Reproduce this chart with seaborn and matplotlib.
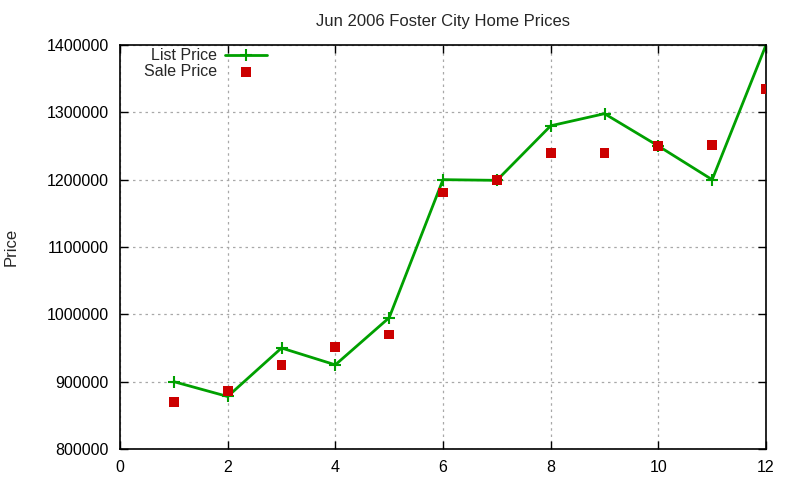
import pandas as pd
import matplotlib.pyplot as plt
import seaborn as sns

# values
months = [1, 2, 3, 4, 5, 6, 7, 8, 9, 10, 11, 12]
list_price = [900000, 878000, 950000, 925000, 995000, 1200000, 1199000,
              1280000, 1298000, 1250000, 1200000, 1400000]
sale_price = [870000, 886000, 925000, 952000, 970000, 1181000, 1200000,
              1239000, 1239000, 1250000, 1252000, 1335000]
x_ticks = [0, 2, 4, 6, 8, 10, 12]
y_ticks = [800000, 900000, 1000000, 1100000, 1200000, 1300000, 1400000]

df = pd.DataFrame({'month': months, 'list': list_price, 'sale': sale_price})

sns.set_style('ticks')
plt.rcParams['font.family'] = ['Liberation Sans', 'DejaVu Sans']

fig = plt.figure(figsize=(8, 4.8), dpi=100)
ax = fig.add_axes([120 / 800, 1 - 449 / 480, 646 / 800, 404 / 480])

green = '#00a000'
sns.lineplot(data=df, x='month', y='list', ax=ax, color=green, linewidth=2,
             marker='+', markersize=9, markeredgewidth=1.5,
             markeredgecolor=green, label='List Price')
sns.scatterplot(data=df, x='month', y='sale', ax=ax, color='#cc0000', marker='s',
                s=50, edgecolor='none', label='Sale Price', zorder=3)

ax.set_xlim(0, 12)
ax.set_ylim(800000, 1400000)
ax.set_xticks(x_ticks)
ax.set_yticks(y_ticks)
ax.set_yticklabels([str(v) for v in y_ticks])
ax.tick_params(direction='in', top=True, right=True, labelsize=11.5, length=6,
               width=1, pad=8, colors='black')
for s in ax.spines.values():
    s.set_linewidth(1.2)
    s.set_color('black')
ax.grid(True, color='#a8a8a8', linestyle=(0, (2, 3)), linewidth=0.9)

ax.set_xlabel('')
ax.set_ylabel('Price', fontsize=12, labelpad=20)
ax.set_title('Jun 2006 Foster City Home Prices', fontsize=12, pad=14)

ax.legend(loc='upper left', bbox_to_anchor=(0.02, 1.02), frameon=False,
          markerfirst=False, fontsize=11.5, handlelength=2.6, handletextpad=0.5,
          labelspacing=0.05, borderaxespad=0.3)

fig.savefig('out.png', dpi=100)
